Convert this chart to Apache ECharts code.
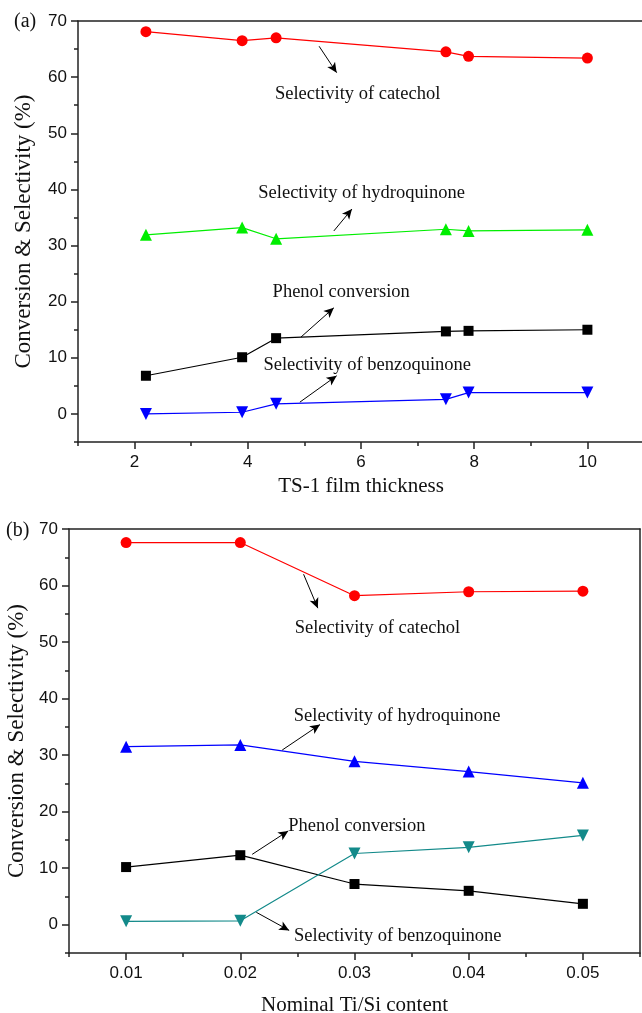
<!DOCTYPE html>
<html>
<head>
<meta charset="utf-8">
<script src="https://cdn.jsdelivr.net/npm/echarts@6/dist/echarts.min.js"></script>
<style>
html,body{margin:0;padding:0;background:#fff;}
#chart{width:642px;height:1013px;}
</style>
</head>
<body>
<div id="chart"></div>
<script>
// ---- data: panel (a) ----
const thickness = [2.2, 3.9, 4.5, 7.5, 7.9, 10];
const catecholA = [68.1, 66.5, 67.0, 64.5, 63.7, 63.4];
const hydroquinoneA = [31.9, 33.2, 31.2, 32.9, 32.6, 32.8];
const phenolA = [6.8, 10.1, 13.5, 14.7, 14.8, 15.0];
const benzoquinoneA = [0.0, 0.3, 1.8, 2.6, 3.8, 3.8];
// ---- data: panel (b) ----
const tiSi = [0.01, 0.02, 0.03, 0.04, 0.05];
const catecholB = [67.6, 67.6, 58.2, 58.9, 59.0];
const hydroquinoneB = [31.5, 31.8, 28.9, 27.1, 25.1];
const phenolB = [10.2, 12.3, 7.2, 6.0, 3.7];
const benzoquinoneB = [0.6, 0.7, 12.6, 13.7, 15.8];
// ---- tick labels ----
const xTicksA = [2, 4, 6, 8, 10];
const xMinorA = [1, 3, 5, 7, 9, 11];
const xTicksB = [0.01, 0.02, 0.03, 0.04, 0.05];
const xMinorB = [0.005, 0.015, 0.025, 0.035, 0.045, 0.055];
const yTicks = [0, 10, 20, 30, 40, 50, 60, 70];
const yMinor = [-5, 5, 15, 25, 35, 45, 55, 65];
const yName = 'Conversion & Selectivity (%)';
const xNameA = 'TS-1 film thickness';
const xNameB = 'Nominal Ti/Si content';

const SERIF = '"Liberation Serif", "Times New Roman", serif';
const SANS = '"Liberation Sans", Arial, sans-serif';
const AX = '#222';

const zip = (xs, ys) => xs.map((x, i) => [x, ys[i]]);

function xAxes(grid, min, max, major, minor, name, nameGap) {
  return [
    {
      gridIndex: grid, type: 'value', min, max, position: 'bottom',
      name, nameLocation: 'middle', nameGap,
      nameTextStyle: {fontFamily: SERIF, fontSize: 21, color: '#111'},
      axisLine: {onZero: false, lineStyle: {color: AX, width: 1.5}},
      axisTick: {customValues: major, length: 7, lineStyle: {color: AX, width: 1.5}},
      axisLabel: {customValues: major, margin: 12, fontFamily: SANS, fontSize: 17, color: '#111'},
      splitLine: {show: false}
    },
    {
      gridIndex: grid, type: 'value', min, max, position: 'bottom',
      axisLine: {show: false, onZero: false},
      axisTick: {customValues: minor, length: 4, lineStyle: {color: AX, width: 1.5}},
      axisLabel: {show: false},
      splitLine: {show: false}
    },
    {
      gridIndex: grid, type: 'value', min, max, position: 'top',
      axisLine: {show: true, onZero: false, lineStyle: {color: AX, width: 1.5}},
      axisTick: {show: false},
      axisLabel: {show: false},
      splitLine: {show: false}
    }
  ];
}
function yAxes(grid, nameGap, rightLine) {
  return [
    {
      gridIndex: grid, type: 'value', min: -5, max: 70, position: 'left',
      name: yName, nameLocation: 'middle', nameGap,
      nameTextStyle: {fontFamily: SERIF, fontSize: 23, color: '#111'},
      axisLine: {show: true, onZero: false, lineStyle: {color: AX, width: 1.5}},
      axisTick: {show: true, customValues: yTicks, length: 7, lineStyle: {color: AX, width: 1.5}},
      axisLabel: {customValues: yTicks, margin: 11, fontFamily: SANS, fontSize: 17, color: '#111'},
      splitLine: {show: false}
    },
    {
      gridIndex: grid, type: 'value', min: -5, max: 70, position: 'left',
      axisLine: {show: false, onZero: false},
      axisTick: {show: true, customValues: yMinor, length: 4, lineStyle: {color: AX, width: 1.5}},
      axisLabel: {show: false},
      splitLine: {show: false}
    },
    {
      gridIndex: grid, type: 'value', min: -5, max: 70, position: 'right',
      axisLine: {show: rightLine, onZero: false, lineStyle: {color: AX, width: 1.5}},
      axisTick: {show: false},
      axisLabel: {show: false},
      splitLine: {show: false}
    }
  ];
}

function annot(text, tx, ty, from, to) {
  return {
    markPoint: {
      silent: true, symbol: 'rect', symbolSize: 1,
      itemStyle: {color: 'transparent'},
      label: {show: true, position: 'inside', formatter: '{b}', color: '#111',
              fontFamily: SERIF, fontSize: 18.5},
      data: [{name: text, coord: [tx, ty]}]
    },
    markLine: {
      silent: true, symbol: ['none', 'arrow'], symbolSize: [7, 10],
      lineStyle: {color: '#000', width: 1, type: 'solid'},
      label: {show: false},
      data: [[{coord: from}, {coord: to}]]
    }
  };
}

function series(name, xi, yi, data, color, symbol, size, rotate, extra) {
  return Object.assign({
    name, type: 'line', xAxisIndex: xi, yAxisIndex: yi, data,
    symbol, symbolSize: size, symbolRotate: rotate || 0,
    lineStyle: {color, width: 1.2}, itemStyle: {color},
    animation: false, z: 3
  }, extra || {});
}

const chart = echarts.init(document.getElementById('chart'), null, {renderer: 'canvas'});
chart.setOption({
  backgroundColor: '#fff',
  animation: false,
  grid: [
    {left: 78, top: 21, width: 566, height: 421, outerBoundsMode: 'none', containLabel: false},
    {left: 69, top: 529, width: 571, height: 424, outerBoundsMode: 'none', containLabel: false}
  ],
  xAxis: [].concat(
    xAxes(0, 1, 11, xTicksA, xMinorA, xNameA, 34),
    xAxes(1, 0.005, 0.055, xTicksB, xMinorB, xNameB, 42)
  ),
  yAxis: [].concat(yAxes(0, 43, false), yAxes(1, 36, true)),
  graphic: [
    {type: 'text', left: 14, top: 12, style: {text: '(a)', font: '20px ' + SERIF, fill: '#111'}},
    {type: 'text', left: 6, top: 521, style: {text: '(b)', font: '20px ' + SERIF, fill: '#111'}}
  ],
  series: [
    series('Selectivity of catechol', 0, 0, zip(thickness, catecholA), '#ff0000', 'circle', 11, 0,
      annot('Selectivity of catechol', 5.94, 57.0, [5.26, 65.5], [5.57, 60.8])),
    series('Selectivity of hydroquinone', 0, 0, zip(thickness, hydroquinoneA), '#00ee00', 'triangle', 12, 0,
      annot('Selectivity of hydroquinone', 6.01, 39.3, [5.52, 32.6], [5.84, 36.5])),
    series('Phenol conversion', 0, 0, zip(thickness, phenolA), '#000000', 'rect', 10, 0,
      annot('Phenol conversion', 5.65, 21.7, [4.94, 13.7], [5.52, 18.9])),
    series('Selectivity of benzoquinone', 0, 0, zip(thickness, benzoquinoneA), '#0000ff', 'triangle', 12, 180,
      annot('Selectivity of benzoquinone', 6.11, 8.7, [4.92, 2.1], [5.57, 6.8])),

    series('Selectivity of catechol', 3, 3, zip(tiSi, catecholB), '#ff0000', 'circle', 11, 0,
      annot('Selectivity of catechol', 0.032, 52.5, [0.02554, 62.0], [0.02679, 56.0])),
    series('Selectivity of hydroquinone', 3, 3, zip(tiSi, hydroquinoneB), '#0000ff', 'triangle', 12, 0,
      annot('Selectivity of hydroquinone', 0.03373, 36.9, [0.02367, 30.9], [0.02698, 35.4])),
    series('Phenol conversion', 3, 3, zip(tiSi, phenolB), '#000000', 'rect', 10, 0,
      annot('Phenol conversion', 0.03021, 17.5, [0.02104, 12.45], [0.0242, 16.6])),
    series('Selectivity of benzoquinone', 3, 3, zip(tiSi, benzoquinoneB), '#138a8a', 'triangle', 12, 180,
      annot('Selectivity of benzoquinone', 0.03379, -2.1, [0.0214, 2.2], [0.02428, -1.0]))
  ]
});
</script>
</body>
</html>
